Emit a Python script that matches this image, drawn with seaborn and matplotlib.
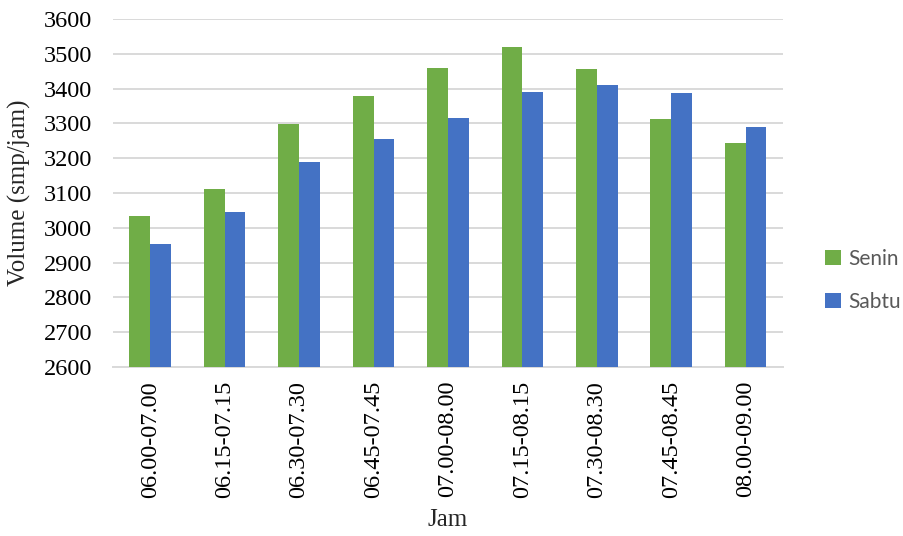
import matplotlib
matplotlib.use("Agg")
import matplotlib.pyplot as plt
from matplotlib.patches import Patch
import pandas as pd
import seaborn as sns

# Time windows (hourly, stepping every 15 minutes)
jam = ["06.00-07.00", "06.15-07.15", "06.30-07.30", "06.45-07.45", "07.00-08.00",
       "07.15-08.15", "07.30-08.30", "07.45-08.45", "08.00-09.00"]

# Traffic volume (smp/jam) per day
senin = [3033, 3111, 3299, 3378, 3458, 3519, 3456, 3312, 3243]
sabtu = [2952, 3044, 3189, 3255, 3315, 3390, 3409, 3388, 3291]

hari = ["Senin", "Sabtu"]
warna = {"Senin": "#70AD47", "Sabtu": "#4472C4"}

df = pd.DataFrame({
    "Jam": jam * 2,
    "Volume": senin + sabtu,
    "Hari": ["Senin"] * len(jam) + ["Sabtu"] * len(jam),
})

sns.set_theme(style="white")
plt.rcParams["font.family"] = ["Liberation Serif", "DejaVu Serif"]

fig = plt.figure(figsize=(9.04, 5.36), dpi=100)
ax = fig.add_axes([0.125, 0.3153, 0.741, 0.6493])

sns.barplot(data=df, x="Jam", y="Volume", hue="Hari", hue_order=hari,
            palette=warna, width=0.56, saturation=1, ax=ax, legend=False,
            edgecolor="none", zorder=3)

ax.set_ylim(2600, 3600)
ax.set_yticks(range(2600, 3601, 100))
ax.set_xlim(-0.5, len(jam) - 0.5)
ax.grid(axis="y", color="#d9d9d9", linewidth=1.4, zorder=0)
ax.set_axisbelow(True)
for side in ["top", "right", "left"]:
    ax.spines[side].set_visible(False)
ax.spines["bottom"].set_color("#d9d9d9")
ax.spines["bottom"].set_linewidth(1.4)
ax.tick_params(axis="both", length=0, labelsize=17.5, colors="black")
ax.tick_params(axis="y", pad=15)
ax.tick_params(axis="x", pad=10)
plt.setp(ax.get_xticklabels(), rotation=90)

ax.set_xlabel("Jam", fontsize=18, labelpad=8)
ax.set_ylabel("Volume (smp/jam)", fontsize=18, labelpad=9)

handles = [Patch(facecolor=warna[h], edgecolor="none", label=h) for h in hari]
leg = fig.legend(handles=handles, loc="center left", bbox_to_anchor=(0.913, 0.477),
                 frameon=False, borderpad=0, borderaxespad=0,
                 handlelength=0.75, handleheight=0.75,
                 handletextpad=0.35, labelspacing=1.1,
                 prop={"family": ["Lato", "DejaVu Sans"], "size": 15})
for t in leg.get_texts():
    t.set_color("#595959")

fig.savefig("out.png", dpi=100)
